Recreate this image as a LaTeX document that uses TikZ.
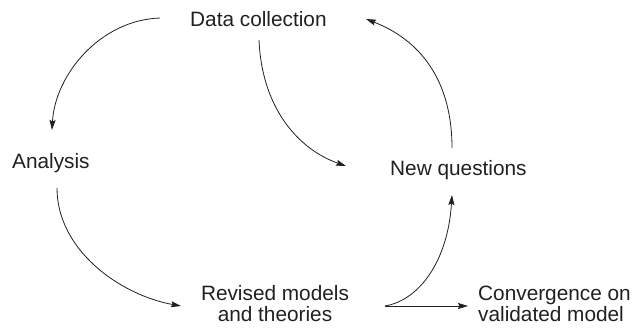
\documentclass[tikz,border=0pt]{standalone}
\usepackage{fontspec}
\setmainfont{Liberation Sans}
\usetikzlibrary{arrows.meta}
\definecolor{ink}{HTML}{231F20}
\tikzset{
  lbl/.style={inner sep=0pt, text=ink, font=\fontsize{20.8}{21}\selectfont},
  flow/.style={draw=ink, line width=0.8pt, -{Stealth[length=10pt,width=6pt,inset=1.5pt]}},
  plainline/.style={draw=ink, line width=0.8pt}
}
\begin{document}
\begin{tikzpicture}[x=1pt,y=-1pt]
\useasboundingbox (0,0) rectangle (635,327);
\node[lbl, anchor=base west] (dc) at (190,26) {Data collection};
\node[lbl, anchor=base west] (an) at (12,168) {Analysis};
\node[lbl, anchor=base west] (nq) at (390,175) {New questions};
\node[lbl, anchor=base, align=center] (rm) at (275,321) {Revised models\\and theories};
\node[lbl, anchor=base west, align=left] (cv) at (478,321) {Convergence on\\validated model};
% connector end points
\coordinate (dcL) at (160,18);
\coordinate (anT) at (52,130);
\coordinate (dcB) at (259,40);
\coordinate (nqL) at (346,166);
\coordinate (nqT) at (452,148);
\coordinate (dcR) at (366,19);
\coordinate (anB) at (57,188);
\coordinate (rmL) at (181,306);
\coordinate (rmR) at (385,306);
\coordinate (nqB) at (452,195);
\coordinate (cvL) at (468,306);
\draw[flow] (dcL) .. controls (100,20) and (55,75) .. (anT);
\draw[flow] (dcB) .. controls (262,110) and (300,150) .. (nqL);
\draw[flow] (nqT) .. controls (452,80) and (420,40) .. (dcR);
\draw[flow] (anB) .. controls (57,250) and (120,295) .. (rmL);
\draw[flow] (rmR) .. controls (420,300) and (448,260) .. (nqB);
\draw[flow] (rmR) -- (cvL);
\end{tikzpicture}
\end{document}
